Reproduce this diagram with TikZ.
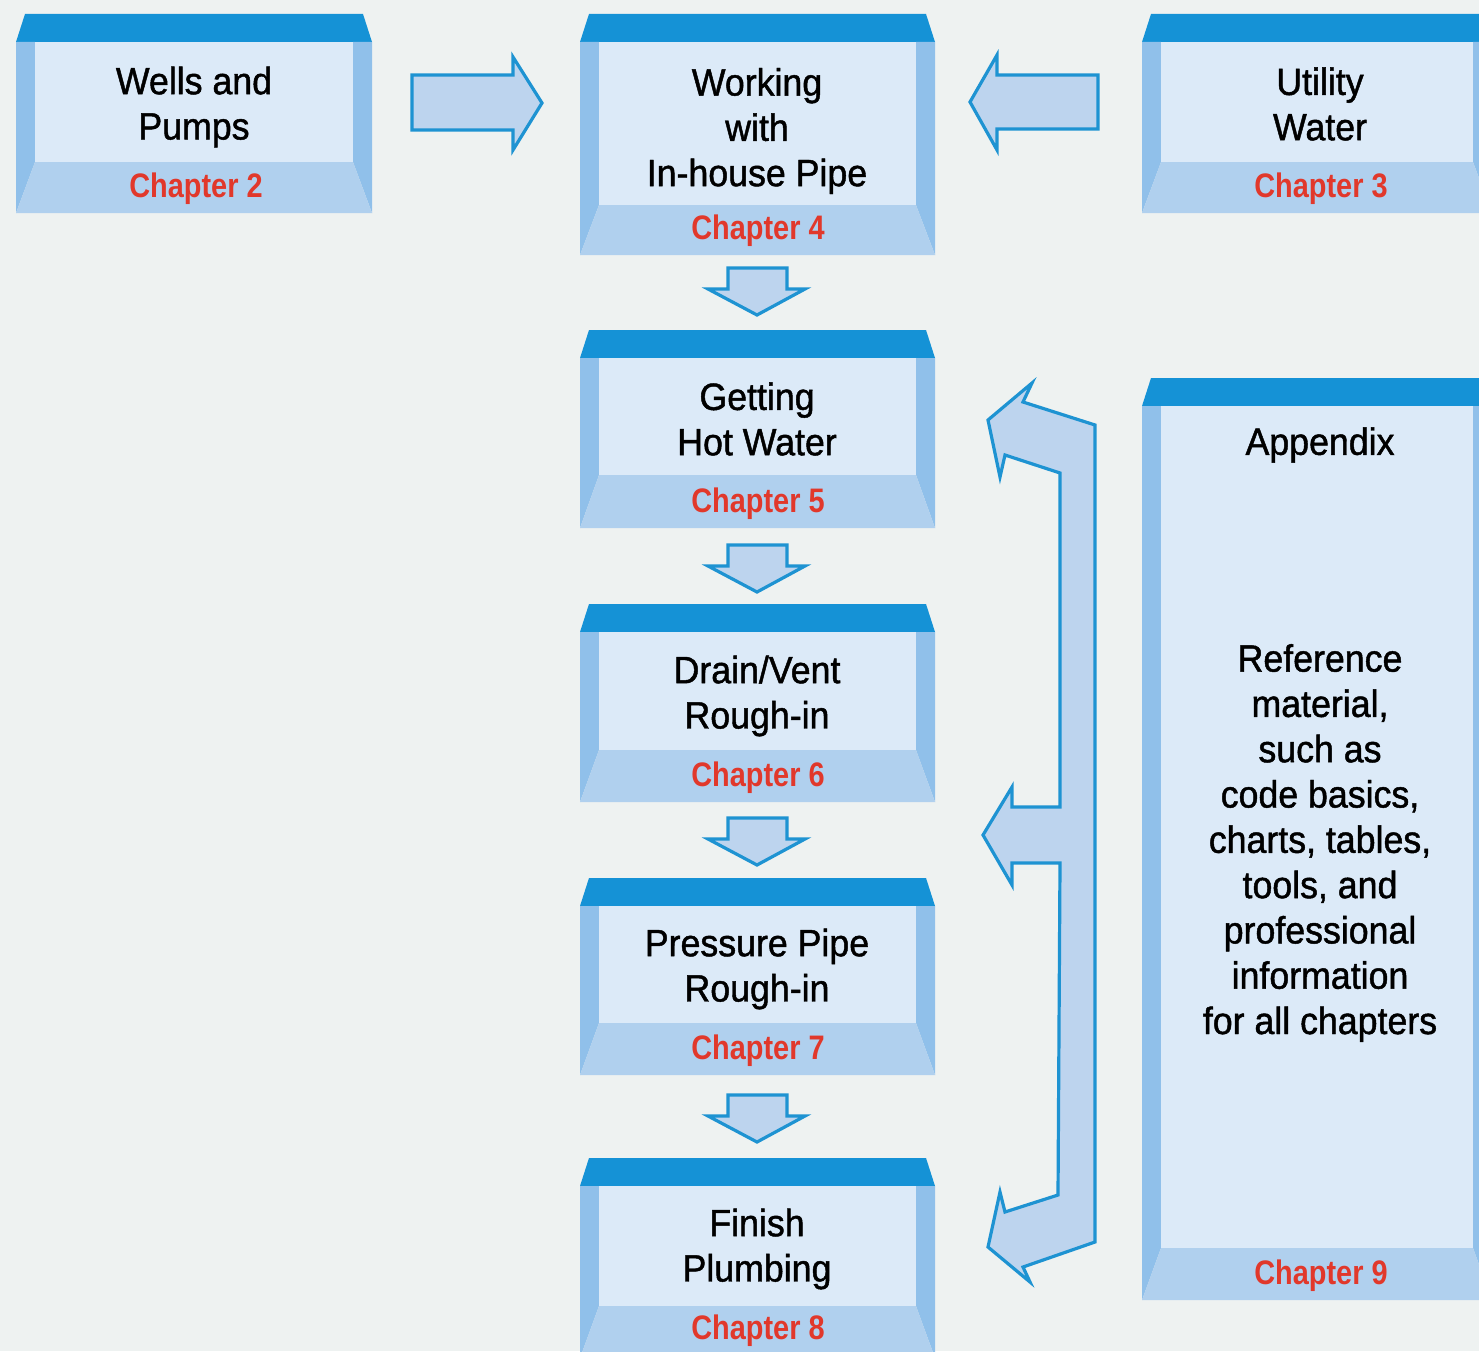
\documentclass[tikz,border=0pt]{standalone}
\usepackage{fontspec}
\setmainfont{Liberation Sans}[FakeStretch=0.94,UprightFeatures={FakeBold=1.2},BoldFeatures={FakeStretch=0.85}]
\definecolor{bgc}{HTML}{EEF2F1}
\definecolor{bandc}{HTML}{1592D6}
\definecolor{wallc}{HTML}{90C0EA}
\definecolor{floorc}{HTML}{B0D0EE}
\definecolor{facec}{HTML}{DCEAF8}
\definecolor{arrowfill}{HTML}{BDD4EE}
\definecolor{arrowline}{HTML}{1E93D2}
\definecolor{chapred}{HTML}{E1382B}
\tikzset{
  title/.style={font=\fontsize{38}{45.3}\selectfont, align=center, text=black, inner sep=0pt},
  chap/.style={font=\fontsize{34}{40}\selectfont\bfseries, text=chapred, inner sep=0pt},
  blockarrow/.style={fill=arrowfill, draw=arrowline, line width=3.2pt, line join=miter},
}
% x y w h f
\newcommand{\chbox}[5]{%
\begin{scope}[shift={(#1,#2)}]
 \fill[bandc] (9,0) -- (#3-9,0) -- (#3,28) -- (0,28) -- cycle;
 \fill[wallc] (0,28) -- (19,28) -- (19,#4-#5) -- (0,#4) -- cycle;
 \fill[wallc] (#3,28) -- (#3-19,28) -- (#3-19,#4-#5) -- (#3,#4) -- cycle;
 \fill[floorc] (19,#4-#5) -- (#3-19,#4-#5) -- (#3,#4) -- (0,#4) -- cycle;
 \fill[facec] (19,28) rectangle (#3-19,#4-#5);
\end{scope}}
\newcommand{\dnarrow}[1]{%
 \draw[blockarrow] (728,#1) -- (787,#1) -- (787,#1+21) -- (805,#1+21) -- (757,#1+47) -- (708,#1+21) -- (728,#1+21) -- cycle;}
\begin{document}
\begin{tikzpicture}[x=1pt,y=-1pt]
\useasboundingbox (0,0) rectangle (1479,1351);
\clip (0,0) rectangle (1479,1351);
\fill[bgc] (0,0) rectangle (1479,1351);

% boxes
\chbox{16}{14}{356}{199}{51}
\chbox{580}{14}{355}{241}{50}
\chbox{1142}{14}{350}{199}{51}
\chbox{580}{330}{355}{198}{53}
\chbox{580}{604}{355}{198}{52}
\chbox{580}{878}{355}{197}{52}
\chbox{580}{1158}{355}{200}{52}
\chbox{1142}{378}{350}{922}{52}

% texts
\node[title] (wells) at (194,107) {Wells and\\Pumps};
\node[chap] (wellsch) at (196,189) {Chapter 2};
\node[title] (working) at (757,131) {Working\\with\\In-house Pipe};
\node[chap] (workingch) at (758,231) {Chapter 4};
\node[title] (utility) at (1320,104) {Utility\\Water};
\node[chap] (utilitych) at (1321,189) {Chapter 3};
\node[title] (hot) at (757,419) {Getting\\Hot Water};
\node[chap] (hotch) at (758,504) {Chapter 5};
\node[title] (drain) at (757,696) {Drain/Vent\\Rough-in};
\node[chap] (drainch) at (758,778) {Chapter 6};
\node[title] (pressure) at (757,969) {Pressure Pipe\\Rough-in};
\node[chap] (pressurech) at (758,1051) {Chapter 7};
\node[title] (finish) at (757,1249) {Finish\\Plumbing};
\node[chap] (finishch) at (758,1331) {Chapter 8};
\node[title] (appendix) at (1320,445) {Appendix};
\node[title] (reference) at (1320,843) {Reference\\material,\\such as\\code basics,\\charts, tables,\\tools, and\\professional\\information\\for all chapters};
\node[chap] (appendixch) at (1321,1276) {Chapter 9};

% horizontal arrows
\draw[blockarrow] (412,75) -- (513,75) -- (513,57) -- (542,103) -- (513,150) -- (513,130) -- (412,130) -- cycle;
\draw[blockarrow] (1098,75) -- (997,75) -- (997,55) -- (970,102) -- (997,150) -- (997,129) -- (1098,129) -- cycle;

% down arrows
\dnarrow{268}
\dnarrow{545}
\dnarrow{818}
\dnarrow{1095}

% bracket arrow
\draw[blockarrow] (988,420) -- (1032,383) -- (1023,402) -- (1095,425) -- (1095,1242)
  -- (1023,1267) -- (1030,1282) -- (988,1247) -- (1000,1192) -- (1005,1212) -- (1058,1195)
  -- (1060,863) -- (1012,863) -- (1012,885) -- (983,835) -- (1012,787) -- (1012,807)
  -- (1060,807) -- (1060,473) -- (1005,455) -- (1000,477) -- cycle;
\end{tikzpicture}
\end{document}
